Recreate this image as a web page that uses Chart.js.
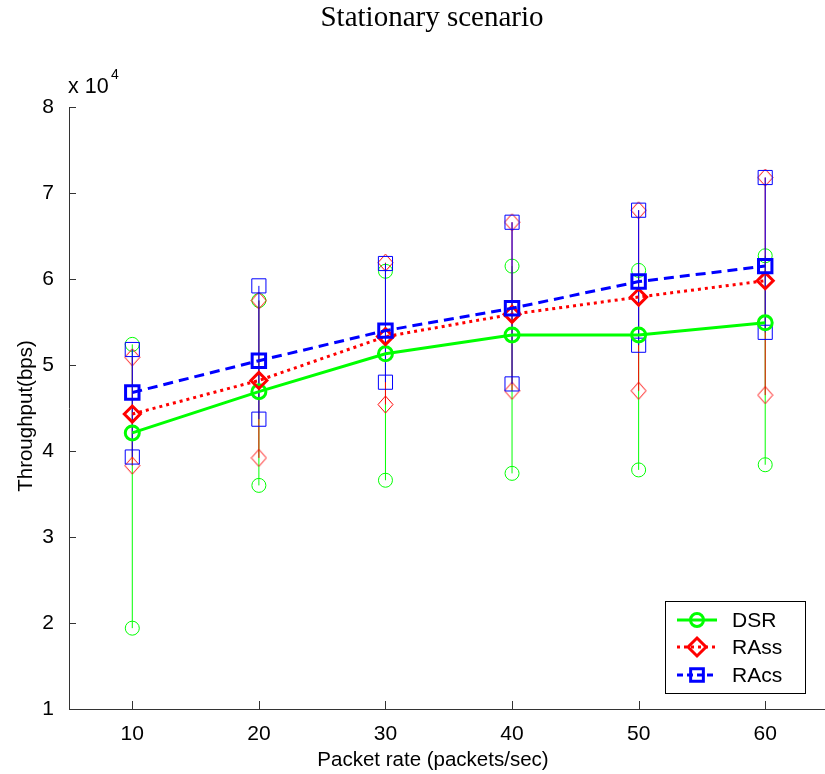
<!DOCTYPE html>
<html>
<head>
<meta charset="utf-8">
<title>Stationary scenario</title>
<style>
  html, body { margin: 0; padding: 0; overflow: hidden; background: #fff; }
  canvas { display: block; }
</style>
<script src="https://cdn.jsdelivr.net/npm/chart.js@4/dist/chart.umd.min.js"></script>
</head>
<body>
<canvas id="chart" width="841" height="774"></canvas>
<script>
// Packet rates on the x axis (packets/sec)
const packetRates = [10, 20, 30, 40, 50, 60];
// Y tick values in bps (labelled in units of 10^4)
const yTickValues = [10000, 20000, 30000, 40000, 50000, 60000, 70000, 80000];

// Throughput (bps): mean, minimum and maximum per packet rate
const dsrMean  = [42100, 46900, 51300, 53500, 53500, 54900];
const dsrMin   = [19400, 36000, 36600, 37400, 37800, 38400];
const dsrMax   = [52400, 57500, 60900, 61500, 61000, 62700];

const rassMean = [44300, 48200, 53300, 55900, 57900, 59800];
const rassMin  = [38300, 39200, 45400, 47000, 47000, 46500];
const rassMax  = [50900, 57500, 61900, 66600, 68000, 71800];

const racsMean = [46800, 50500, 54000, 56600, 59700, 61500];
const racsMin  = [39300, 43700, 48000, 47800, 52300, 53800];
const racsMax  = [51800, 59200, 61800, 66600, 68000, 71800];

const seriesNames = ['DSR', 'RAss', 'RAcs'];

const GREEN = '#00ff00', RED = '#ff0000', BLUE = '#0000ff';
const SANS = '"Liberation Sans", Arial, sans-serif';
const SERIF = '"Liberation Serif", "Times New Roman", serif';

function meanPoints(means) {
  return packetRates.map((x, i) => ({ x: x, y: means[i] }));
}
// Vertical min-max whiskers; a null point breaks the line between rates
function whiskerPoints(lo, hi) {
  const pts = [];
  packetRates.forEach((x, i) => {
    pts.push({ x: x, y: lo[i] }, { x: x, y: hi[i] }, { x: x, y: null });
  });
  return pts;
}

// Thin, slightly tall diamond used for the RAss range markers
function makeDiamond(w, h, color) {
  const c = document.createElement('canvas');
  c.width = w + 2; c.height = h + 2;
  const g = c.getContext('2d');
  g.strokeStyle = color;
  g.lineWidth = 1;
  g.beginPath();
  g.moveTo(c.width / 2, 1);
  g.lineTo(c.width - 1, c.height / 2);
  g.lineTo(c.width / 2, c.height - 1);
  g.lineTo(1, c.height / 2);
  g.closePath();
  g.stroke();
  return c;
}

const styles = [
  { color: GREEN, dash: [],      point: 'circle',  meanR: 7,   barR: 7,  barStyle: 'circle' },
  { color: RED,   dash: [3, 4],  point: 'rectRot', meanR: 8,   barR: 8,  barStyle: makeDiamond(15, 17, RED) },
  { color: BLUE,  dash: [10, 6], point: 'rect',    meanR: 9.5, barR: 10, barStyle: 'rect' }
];
const means = [dsrMean, rassMean, racsMean];
const mins  = [dsrMin, rassMin, racsMin];
const maxs  = [dsrMax, rassMax, racsMax];

const datasets = [];
// Mean curves (RAcs drawn on top)
[0, 1, 2].forEach(k => {
  const s = styles[k];
  datasets.push({
    label: seriesNames[k],
    data: meanPoints(means[k]),
    borderColor: s.color,
    backgroundColor: 'rgba(0,0,0,0)',
    borderWidth: 3,
    borderDash: s.dash,
    pointStyle: s.point,
    pointRadius: s.meanR,
    pointBorderWidth: 3,
    pointBorderColor: s.color,
    pointBackgroundColor: 'rgba(0,0,0,0)',
    tension: 0,
    order: 2 - k
  });
});
// Min/max whiskers with thin hollow markers
[0, 1, 2].forEach(k => {
  const s = styles[k];
  datasets.push({
    label: seriesNames[k] + ' range',
    data: whiskerPoints(mins[k], maxs[k]),
    borderColor: s.color,
    backgroundColor: 'rgba(0,0,0,0)',
    borderWidth: 1,
    pointStyle: s.barStyle,
    pointRadius: s.barR,
    pointBorderWidth: 1,
    pointBorderColor: s.color,
    pointBackgroundColor: 'rgba(0,0,0,0)',
    spanGaps: false,
    tension: 0,
    order: 5 - k
  });
});

function drawMarker(ctx, style, x, y, r, lw, color) {
  ctx.save();
  ctx.strokeStyle = color;
  ctx.lineWidth = lw;
  ctx.setLineDash([]);
  ctx.beginPath();
  if (style === 'circle') {
    ctx.arc(x, y, r, 0, Math.PI * 2);
  } else if (style === 'rect') {
    const h = r * Math.SQRT1_2;
    ctx.rect(x - h, y - h, 2 * h, 2 * h);
  } else {
    ctx.moveTo(x, y - r); ctx.lineTo(x + r, y); ctx.lineTo(x, y + r); ctx.lineTo(x - r, y); ctx.closePath();
  }
  ctx.stroke();
  ctx.restore();
}

// Inward tick marks, axis texts, exponent label and the legend box
const decorations = {
  id: 'decorations',
  afterDraw(chart) {
    const ctx = chart.ctx;
    const xs = chart.scales.x, ys = chart.scales.y;
    const area = chart.chartArea;
    ctx.save();
    ctx.strokeStyle = '#333';
    ctx.lineWidth = 1;
    ctx.beginPath();
    packetRates.forEach(v => {
      const px = Math.round(xs.getPixelForValue(v)) + 0.5;
      ctx.moveTo(px, area.bottom); ctx.lineTo(px, area.bottom - 8);
    });
    yTickValues.forEach(v => {
      const py = Math.round(ys.getPixelForValue(v)) + 0.5;
      ctx.moveTo(area.left, py); ctx.lineTo(area.left + 7, py);
    });
    ctx.stroke();

    ctx.fillStyle = '#000';
    // Exponent label above the y axis
    ctx.font = '21.5px ' + SANS;
    ctx.textAlign = 'left';
    ctx.textBaseline = 'alphabetic';
    ctx.fillText('x 10', 68, 93);
    ctx.font = '14px ' + SANS;
    ctx.fillText('4', 111, 79);

    // Title
    ctx.font = '29px ' + SERIF;
    ctx.textAlign = 'center';
    ctx.fillText('Stationary scenario', 432, 26);

    // X axis label
    ctx.font = '20.5px ' + SANS;
    ctx.fillText('Packet rate (packets/sec)', 433, 766);

    // Y axis label
    ctx.save();
    ctx.translate(32, 416);
    ctx.rotate(-Math.PI / 2);
    ctx.fillText('Throughput(bps)', 0, 0);
    ctx.restore();

    // Legend
    const bx = 665.5, by = 601.5, bw = 140, bh = 92;
    ctx.fillStyle = '#fff';
    ctx.fillRect(bx, by, bw, bh);
    ctx.strokeStyle = '#000';
    ctx.lineWidth = 1;
    ctx.strokeRect(bx, by, bw, bh);
    const rows = [620, 647, 675];
    const legendR = [6.5, 9, 9];
    [0, 1, 2].forEach(k => {
      const s = styles[k];
      const y = rows[k];
      ctx.save();
      ctx.strokeStyle = s.color;
      ctx.lineWidth = 3;
      ctx.setLineDash(s.dash.length ? (k === 1 ? [3, 4] : [6, 4]) : []);
      ctx.beginPath();
      ctx.moveTo(677, y); ctx.lineTo(717, y);
      ctx.stroke();
      ctx.restore();
      drawMarker(ctx, s.point, 697, y, legendR[k], 3, s.color);
      ctx.fillStyle = '#000';
      ctx.font = '21px ' + SANS;
      ctx.textAlign = 'left';
      ctx.textBaseline = 'middle';
      ctx.fillText(seriesNames[k], 732, y + 1);
    });
    ctx.restore();
  }
};

new Chart(document.getElementById('chart'), {
  type: 'line',
  data: { datasets: datasets },
  options: {
    responsive: false,
    animation: false,
    devicePixelRatio: 1,
    layout: { padding: { top: 107, left: 0, right: 1, bottom: 0 } },
    plugins: {
      legend: { display: false },
      tooltip: { enabled: false },
      title: { display: false }
    },
    scales: {
      x: {
        type: 'linear',
        min: 5,
        max: 65,
        grid: { display: false },
        border: { display: true, color: '#333', width: 1 },
        ticks: {
          color: '#000',
          padding: 5,
          maxRotation: 0,
          font: { family: SANS, size: 21 }
        },
        afterBuildTicks: s => { s.ticks = packetRates.map(v => ({ value: v })); },
        afterFit: s => { s.height = 65; }
      },
      y: {
        type: 'linear',
        min: 10000,
        max: 80000,
        grid: { display: false },
        border: { display: true, color: '#333', width: 1 },
        ticks: {
          color: '#000',
          padding: 7,
          font: { family: SANS, size: 21 },
          callback: v => String(v / 10000)
        },
        afterBuildTicks: s => { s.ticks = yTickValues.map(v => ({ value: v })); },
        afterFit: s => { s.width = 69; }
      }
    }
  },
  plugins: [decorations]
});
</script>
</body>
</html>
